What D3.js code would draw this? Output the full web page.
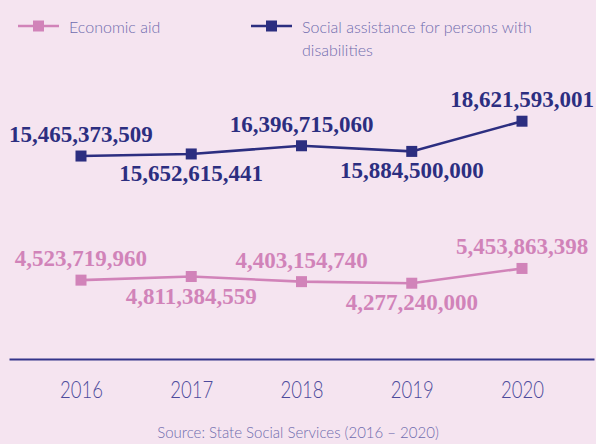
<!DOCTYPE html>
<html>
<head>
<meta charset="utf-8">
<script src="https://cdn.jsdelivr.net/npm/d3@7/dist/d3.min.js"></script>
<style>
  body { margin: 0; background: #f5e4f0; }
  svg { display: block; }
  .legend text, .source { font-family: Lato, "Open Sans", sans-serif; font-weight: 300; fill: #6f6cae; }
  .axis text { font-family: Lato, sans-serif; font-weight: 300; fill: #4d4b9c; }
  .lbl { font-family: "Liberation Serif", serif; font-weight: bold; }
</style>
</head>
<body>
<svg width="596" height="444"></svg>
<script>
// data
var years = ["2016", "2017", "2018", "2019", "2020"]
var economicAid = [4523719960, 4811384559, 4403154740, 4277240000, 5453863398]
var disabilityAid = [15465373509, 15652615441, 16396715060, 15884500000, 18621593001]

var pink = "#d183b9", navy = "#2c2e80"

var svg = d3.select("svg")

svg.append("rect").attr("width", 596).attr("height", 444).attr("fill", "#f5e4f0")

var x = d3.scalePoint()
  .domain(years)
  .range([9, 594])
  .padding(0.653)

// each series has its own band in the picture
var yDis = d3.scaleLinear().domain([14e9, 20e9]).range([172.2, 106])
var yEco = d3.scaleLinear().domain([4e9, 6e9]).range([286.7, 261.6])

var fmt = d3.format(",")

var series = [
  {name: "Economic aid", values: economicAid, y: yEco, color: pink},
  {name: "Social assistance for persons with disabilities", values: disabilityAid, y: yDis, color: navy}
]

var line = d3.line()

series.forEach(function (s) {
  var pts = s.values.map(function (v, i) { return [x(years[i]), s.y(v)] })

  svg.append("path")
    .attr("d", line(pts))
    .attr("fill", "none")
    .attr("stroke", s.color)
    .attr("stroke-width", 2.6)

  svg.append("g").selectAll("rect")
    .data(pts)
    .enter().append("rect")
      .attr("x", function (d) { return d[0] - 5.5 })
      .attr("y", function (d) { return d[1] - 5.5 })
      .attr("width", 11)
      .attr("height", 11)
      .attr("fill", s.color)

  // labels alternate above / below the markers
  svg.append("g").selectAll("text")
    .data(s.values)
    .enter().append("text")
      .attr("class", "lbl")
      .attr("x", function (d, i) { return Math.min(x(years[i]), 595 - 71) })
      .attr("y", function (d, i) { return s.y(d) + (i % 2 === 0 ? -14 : 27) })
      .attr("text-anchor", "middle")
      .attr("font-size", 23)
      .attr("fill", s.color)
      .text(function (d) { return fmt(d) })
})

// x axis
var xAxis = svg.append("g")
  .attr("class", "axis")
  .attr("transform", "translate(0,359)")
  .call(d3.axisBottom(x).tickSize(0).tickSizeOuter(0).tickPadding(22))

xAxis.select(".domain").attr("stroke", "#34348a").attr("stroke-width", 2.2)
// the year font in the original is narrow, squeeze Lato light to match
xAxis.selectAll("text")
  .attr("font-size", 23.5)
  .attr("textLength", 43)
  .attr("lengthAdjust", "spacingAndGlyphs")

// legend
var legend = svg.append("g").attr("class", "legend")

var legendItems = [
  {x: 18, color: pink, lines: ["Economic aid"]},
  {x: 251, color: navy, lines: ["Social assistance for persons with", "disabilities"]}
]

legendItems.forEach(function (d) {
  var g = legend.append("g").attr("transform", "translate(" + d.x + ",26)")
  g.append("line").attr("x1", 0).attr("x2", 41).attr("stroke", d.color).attr("stroke-width", 2.6)
  g.append("rect").attr("x", 15).attr("y", -5.5).attr("width", 11).attr("height", 11).attr("fill", d.color)
  g.selectAll("text")
    .data(d.lines)
    .enter().append("text")
      .attr("x", 51)
      .attr("y", function (t, i) { return 7 + i * 23 })
      .attr("font-size", 16)
      .text(function (t) { return t })
})

svg.append("text")
  .attr("class", "source")
  .attr("x", 298)
  .attr("y", 438)
  .attr("text-anchor", "middle")
  .attr("font-size", 15)
  .text("Source: State Social Services (2016 – 2020)")
</script>
</body>
</html>
